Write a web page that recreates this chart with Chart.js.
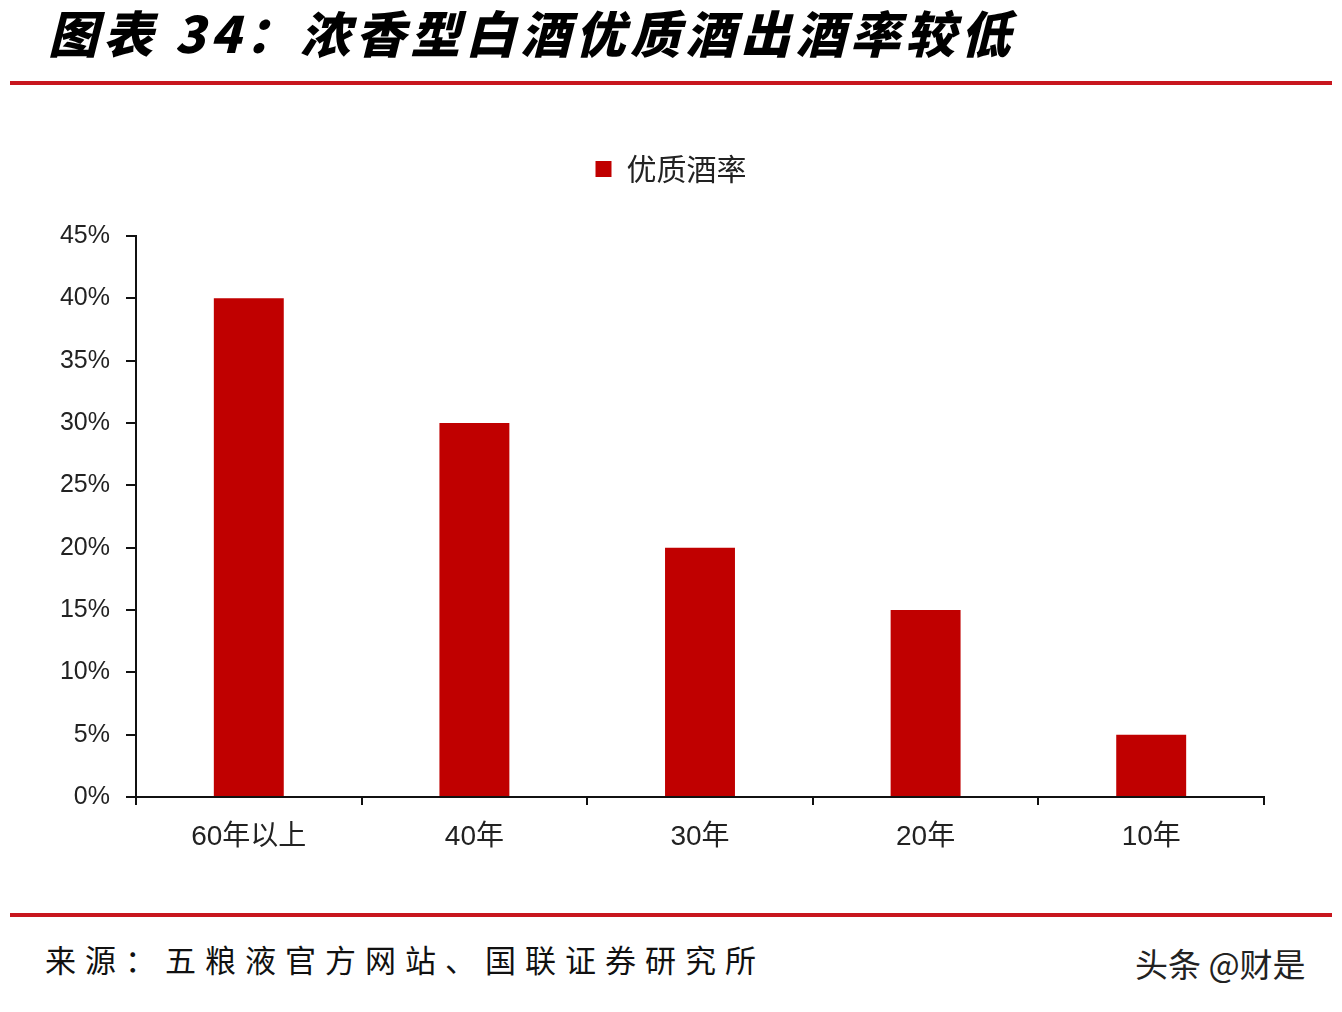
<!DOCTYPE html>
<html>
<head>
<meta charset="utf-8">
<script src="https://cdn.jsdelivr.net/npm/chart.js@4/dist/chart.umd.min.js"></script>
<style>
  html, body { margin:0; padding:0; background:#fff; }
  body { width:1342px; height:1012px; position:relative; overflow:hidden; font-family:"Noto Sans CJK SC", sans-serif; }
  #title { position:absolute; left:48px; top:-2px; font-size:50px; font-weight:900; font-style:italic; letter-spacing:5px; color:#000; white-space:nowrap; line-height:66px; }
  .rule { position:absolute; left:10px; width:1322px; height:4px; background:#C8161E; }
  #source { position:absolute; left:45px; top:936px; font-size:31px; letter-spacing:9px; color:#111; white-space:nowrap; line-height:46px; }
  #wm { position:absolute; left:1135px; top:940px; font-size:33px; color:#222; white-space:nowrap; line-height:46px; }
  #box { position:absolute; left:0; top:100px; width:1342px; height:800px; }
</style>
</head>
<body>
<div id="title">图表 34：浓香型白酒优质酒出酒率较低</div>
<div class="rule" style="top:81px"></div>
<div id="box"><canvas id="c"></canvas></div>
<div class="rule" style="top:913px"></div>
<div id="source">来源：五粮液官方网站、国联证券研究所</div>
<div id="wm">头条 @财是</div>
<script>
const categories = ["60年以上", "40年", "30年", "20年", "10年"];
const seriesName = "优质酒率";
const rateValues = [40, 30, 20, 15, 5];
const yTicks = [0, 5, 10, 15, 20, 25, 30, 35, 40, 45];

const legendTweak = {
  id: 'legendTweak',
  beforeInit(chart) {
    const origFit = chart.legend.fit;
    chart.legend.fit = function() {
      origFit.bind(chart.legend)();
      this.height += 42;
    };
  },
  afterLayout(chart) {
    const lg = chart.legend;
    lg.left += 39; lg.right += 39;
  }
};

new Chart(document.getElementById('c'), {
  type: 'bar',
  data: {
    labels: categories,
    datasets: [{
      label: seriesName,
      data: rateValues,
      backgroundColor: '#C00000',
      borderWidth: 0,
      categoryPercentage: 1,
      barPercentage: 0.31
    }]
  },
  options: {
    responsive: true,
    maintainAspectRatio: false,
    animation: false,
    devicePixelRatio: 1,
    layout: { padding: { top: 44, left: 0, right: 78, bottom: 0 } },
    plugins: {
      legend: {
        display: true,
        position: 'top',
        labels: {
          boxWidth: 16, boxHeight: 16,
          color: '#222',
          font: { family: '"Noto Sans CJK SC", sans-serif', size: 30 },
          padding: 10
        }
      },
      tooltip: { enabled: false }
    },
    scales: {
      x: {
        offset: true,
        grid: { display: true, offset: true, drawOnChartArea: false, drawTicks: true, tickLength: 8, color: '#111', lineWidth: 2 },
        border: { display: true, color: '#111', width: 2 },
        ticks: { color: '#222', padding: 15, font: { family: '"Liberation Sans", "Noto Sans CJK SC", sans-serif', size: 28 } },
        afterFit(scale) { scale.height = 103; }
      },
      y: {
        min: 0, max: 45,
        afterBuildTicks(scale) { scale.ticks = yTicks.map(v => ({ value: v })); },
        grid: { display: true, drawOnChartArea: false, drawTicks: true, tickLength: 10, color: '#111', lineWidth: 2 },
        border: { display: true, color: '#111', width: 2 },
        ticks: { color: '#222', padding: 16, font: { family: '"Liberation Sans", sans-serif', size: 25 }, callback: v => v + '%' },
        afterFit(scale) { scale.width = 136; }
      }
    }
  },
  plugins: [legendTweak]
});
</script>
</body>
</html>
